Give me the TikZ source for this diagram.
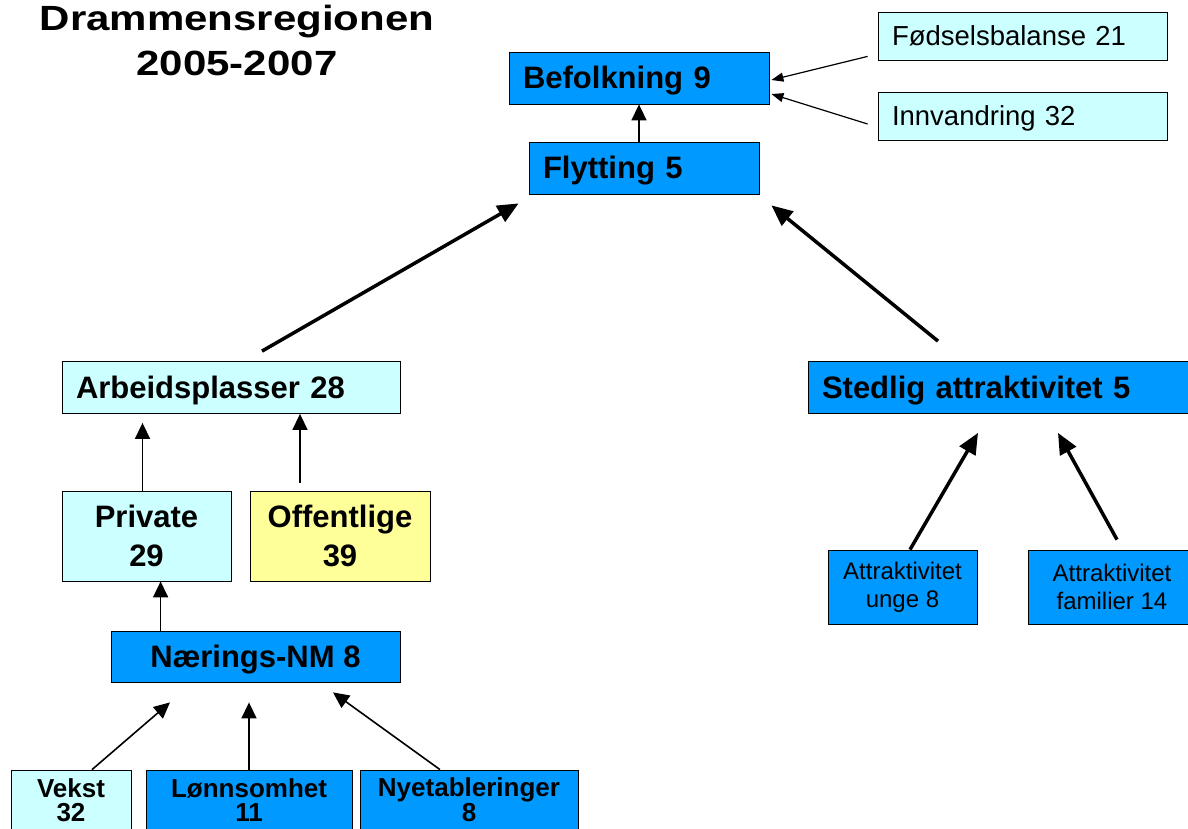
\documentclass[tikz,border=0pt]{standalone}
\usepackage{fontspec}
\setmainfont{Liberation Sans}
\newfontfamily\titlefont[FakeStretch=1.2]{Liberation Sans}
\usetikzlibrary{arrows.meta,calc}

\definecolor{boxblue}{RGB}{0,153,255}
\definecolor{boxcyan}{RGB}{204,255,255}
\definecolor{boxyellow}{RGB}{255,255,153}

\begin{document}
\begin{tikzpicture}[x=1pt, y=-1pt,
    box/.style={draw, line width=0.8pt, inner ysep=0pt, minimum height=52pt, font=\fontsize{31}{39}\selectfont\bfseries},
    leftbox/.style={box, align=left, inner xsep=14pt, text height=21pt, text depth=0pt},
    midbox/.style={box, align=center, inner xsep=0pt},
    smallbox/.style={draw, line width=0.8pt, inner sep=0pt, align=center, fill=boxblue, minimum height=74pt, font=\fontsize{24}{28}\selectfont},
    lowbox/.style={draw, line width=0.8pt, inner sep=0pt, align=center, minimum height=60pt, font=\fontsize{26}{23.5}\selectfont\bfseries},
    arr/.style={-{Triangle[length=16pt,width=15pt]}, line width=1.6pt},
    smallarr/.style={-{Triangle[length=12pt,width=9pt]}, line width=1.2pt},
    bigarr/.style={-{Triangle[length=21pt,width=18pt]}, line width=3.5pt}
]
\useasboundingbox (0,0) rectangle (1188,828);

% title
\node[align=center, font=\titlefont\bfseries\fontsize{35}{45}\selectfont] (title) at (237,40) {Drammensregionen\\2005-2007};

% top
\node[leftbox, fill=boxblue, text width=232pt] (bef) at (639,78) {Befolkning 9};
\node[leftbox, fill=boxblue, text width=202pt] (fly) at (644,168) {Flytting 5};
\node[leftbox, fill=boxcyan, text width=261pt, text height=18pt, minimum height=48pt, font=\fontsize{27.5}{33}\selectfont] (fod) at (1022.5,36) {Fødselsbalanse 21};
\node[leftbox, fill=boxcyan, text width=261pt, text height=18pt, minimum height=48pt, font=\fontsize{27.5}{33}\selectfont] (inn) at (1022.5,116) {Innvandring 32};

% middle
\node[leftbox, fill=boxcyan, text width=310pt] (arb) at (231,387.5) {Arbeidsplasser 28};
\node[leftbox, fill=boxblue, text width=356pt] (sted) at (1000,387.5) {Stedlig attraktivitet 5};

\node[midbox, fill=boxcyan, minimum width=169pt, minimum height=90pt] (priv) at (146.5,536) {Private\\29};
\node[midbox, fill=boxyellow, minimum width=180pt, minimum height=90pt] (off) at (340,536) {Offentlige\\39};
\node[midbox, fill=boxblue, minimum width=289pt, minimum height=51pt, text height=21pt, text depth=0pt] (nm) at (255.5,656.5) {Nærings-NM 8};

\node[smallbox, minimum width=149pt] (unge) at (902.5,587) {Attraktivitet\\unge 8};
\node[smallbox, minimum width=168pt] (fam) at (1112,587) {Attraktivitet\\familier 14};

% bottom
\node[lowbox, fill=boxcyan, minimum width=120pt] (vekst) at (71,800) {Vekst\\32};
\node[lowbox, fill=boxblue, minimum width=206pt] (lonn) at (249,800) {Lønnsomhet\\11};
\node[lowbox, fill=boxblue, minimum width=218pt] (nye) at (469,800) {Nyetableringer\\8};

% arrows
\draw[smallarr] ($(fod.south west)+(-10,-4)$) -- ($(bef.east)+(2,2)$);
\draw[smallarr] ($(inn.west)+(-10,8)$) -- ($(bef.east)+(2,16)$);
\draw[arr] (fly.north -| bef.south) -- (bef.south);

\draw[bigarr] ($(arb.north)+(31,-10)$) -- ($(fly.south west)+(-10,9)$);
\draw[bigarr] ($(sted.north)+(-62,-20)$) -- ($(fly.south east)+(12,11)$);

\draw[arr] ($(priv.north)+(-4,0)$) -- ($(priv.north |- arb.south)+(-4,9)$);
\draw[arr] ($(off.north)+(-40,-8)$) -- ($(off.north |- arb.south)+(-40,0)$);
\draw[arr] ($(nm.north west)+(50,0)$) -- ($(nm.north west |- priv.south)+(50,0)$);

\draw[arr] ($(vekst.north)+(21,0)$) -- ($(nm.south)+(-85.5,20)$);
\draw[arr] (lonn.north) -- ($(lonn.north |- nm.south)+(0,20)$);
\draw[arr] ($(nye.north)+(-29,0)$) -- ($(nm.south)+(77.5,10)$);

\draw[bigarr] ($(unge.north)+(7.5,0)$) -- ($(sted.south)+(-22,19)$);
\draw[bigarr] ($(fam.north)+(5,-10)$) -- ($(sted.south)+(58,19)$);
\end{tikzpicture}
\end{document}
